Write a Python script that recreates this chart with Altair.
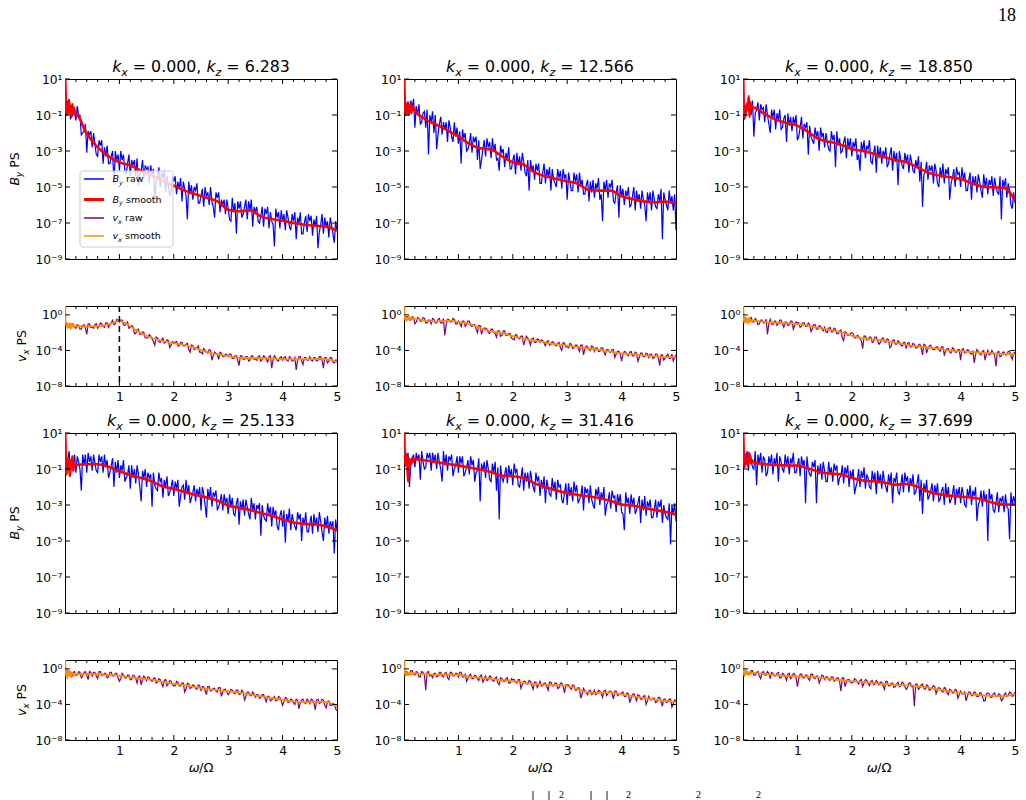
import altair as alt
import pandas as pd

# ---------------- data ----------------
OMEGA = [round(0.05 * k, 2) for k in range(1, 101)]              # raw frequency grid, omega/Omega
OMEGA_MID = [round(0.05 * k - 0.025, 3) for k in range(1, 101)]  # in-between raw frequencies
SMOOTH_OMEGA = [0.005, 0.015, 0.03, 0.045, 0.06, 0.075, 0.09, 0.105, 0.12, 0.135, 0.15, 0.165, 0.18,
                0.2, 0.4, 0.6, 0.8, 1.0, 1.2, 1.4, 1.6, 1.8, 2.0, 2.2, 2.4, 2.6, 2.8, 3.0,
                3.2, 3.4, 3.6, 3.8, 4.0, 4.2, 4.4, 4.6, 4.8, 5.0]
KZ = ["6.283", "12.566", "18.850", "25.133", "31.416", "37.699"]

# raw B_y spectra: log10(PS) in tenths of a decade, at OMEGA
BY_RAW_1 = [-4, -12, -8, -13, -10, -21, -19, -31, -21, -28,
            -26, -33, -27, -37, -33, -37, -33, -49, -35, -41,
            -35, -41, -37, -44, -38, -44, -49, -41, -45, -40,
            -48, -43, -56, -45, -50, -45, -53, -49, -53, -47,
            -54, -51, -58, -51, -68, -54, -57, -52, -59, -55,
            -61, -55, -60, -58, -67, -56, -64, -60, -65, -62,
            -69, -64, -76, -62, -67, -61, -68, -63, -72, -64,
            -69, -66, -72, -65, -73, -69, -83, -67, -73, -69,
            -74, -67, -74, -69, -79, -70, -76, -70, -75, -69,
            -77, -72, -84, -71, -76, -72, -78, -71, -81, -74]
BY_RAW_2 = [-5, -10, -6, -17, -10, -15, -9, -17, -32, -14,
            -20, -29, -15, -21, -18, -25, -17, -25, -22, -26,
            -37, -23, -30, -26, -31, -25, -35, -40, -29, -33,
            -28, -34, -30, -35, -41, -31, -39, -35, -40, -35,
            -43, -38, -41, -36, -44, -52, -41, -46, -41, -48,
            -42, -48, -44, -52, -46, -50, -45, -51, -45, -57,
            -47, -52, -47, -53, -49, -54, -49, -58, -53, -56,
            -51, -57, -69, -52, -56, -50, -58, -53, -67, -55,
            -60, -55, -61, -55, -63, -58, -62, -57, -69, -58,
            -63, -57, -62, -58, -79, -57, -63, -59, -63, -74]
BY_RAW_3 = [-11, -5, -10, -22, -7, -13, -7, -14, -10, -20,
            -11, -18, -13, -18, -12, -25, -16, -19, -15, -24,
            -17, -23, -17, -32, -22, -26, -22, -30, -22, -28,
            -25, -30, -24, -39, -27, -31, -25, -34, -28, -33,
            -28, -35, -41, -30, -34, -29, -36, -31, -42, -34,
            -37, -33, -39, -32, -41, -36, -49, -35, -40, -36,
            -42, -36, -42, -39, -47, -61, -42, -46, -41, -48,
            -41, -50, -45, -48, -43, -57, -45, -50, -43, -50,
            -46, -52, -46, -57, -49, -53, -47, -56, -50, -54,
            -49, -55, -50, -54, -68, -50, -56, -52, -62, -59]
BY_RAW_4 = [-5, -12, -8, -12, -6, -22, -8, -12, -6, -11,
            -7, -12, -6, -12, -9, -15, -8, -20, -12, -15,
            -11, -17, -13, -21, -15, -18, -13, -28, -15, -20,
            -15, -31, -19, -22, -17, -26, -20, -25, -20, -25,
            -21, -31, -20, -27, -24, -29, -23, -28, -25, -33,
            -24, -37, -27, -31, -25, -33, -28, -33, -29, -35,
            -31, -35, -29, -41, -33, -36, -31, -38, -33, -38,
            -32, -47, -36, -39, -35, -42, -36, -42, -36, -42,
            -51, -39, -44, -39, -44, -38, -50, -41, -45, -40,
            -46, -41, -45, -39, -50, -43, -46, -42, -57, -44]
BY_RAW_5 = [-4, -20, -4, -9, -5, -16, -6, -9, -4, -11,
            -6, -10, -6, -17, -8, -11, -5, -14, -8, -12,
            -7, -14, -9, -13, -8, -17, -11, -28, -11, -15,
            -10, -17, -12, -22, -38, -15, -13, -18, -14, -19,
            -12, -19, -15, -22, -17, -21, -16, -23, -17, -25,
            -21, -29, -20, -25, -22, -27, -20, -27, -23, -30,
            -25, -28, -23, -29, -25, -33, -23, -29, -27, -32,
            -25, -30, -27, -36, -28, -32, -26, -34, -29, -34,
            -44, -29, -35, -30, -35, -29, -40, -33, -36, -31,
            -37, -33, -37, -31, -40, -35, -38, -52, -35, -39]
BY_RAW_6 = [-5, -11, -5, -10, -19, -7, -12, -5, -12, -7,
            -13, -8, -17, -6, -12, -8, -13, -7, -12, -8,
            -14, -8, -29, -10, -14, -9, -29, -13, -16, -11,
            -17, -13, -17, -11, -19, -14, -18, -13, -20, -15,
            -24, -17, -20, -15, -21, -15, -21, -17, -24, -18,
            -21, -17, -23, -18, -29, -17, -23, -19, -23, -17,
            -23, -19, -24, -18, -28, -35, -23, -27, -22, -28,
            -24, -28, -22, -30, -26, -29, -24, -30, -25, -29,
            -24, -31, -26, -30, -25, -39, -28, -31, -28, -50,
            -27, -33, -29, -34, -28, -34, -31, -49, -30, -29]

# raw B_y spectra at OMEGA_MID (tenths of a decade)
BY_RAW_MID_1 = [-1, -1, -11, -6, -5, -10, -20, -15, -19, -19,
                -20, -32, -24, -24, -28, -27, -37, -30, -30, -32,
                -30, -32, -43, -32, -35, -35, -34, -43, -35, -38,
                -39, -38, -40, -48, -39, -42, -41, -44, -55, -44,
                -44, -47, -45, -47, -55, -47, -49, -50, -48, -59,
                -51, -50, -53, -50, -61, -53, -53, -57, -57, -57,
                -68, -56, -59, -58, -58, -65, -57, -58, -57, -61,
                -61, -70, -61, -62, -61, -64, -71, -62, -64, -63,
                -65, -63, -72, -65, -64, -67, -64, -76, -66, -65,
                -66, -68, -66, -75, -65, -67, -69, -67, -76, -69]
BY_RAW_MID_2 = [-2, -10, -2, -1, -5, -4, -14, -8, -7, -10,
                -8, -10, -21, -11, -14, -14, -13, -22, -14, -17,
                -19, -18, -20, -29, -20, -22, -22, -24, -35, -24,
                -23, -25, -23, -26, -34, -27, -29, -31, -28, -40,
                -32, -31, -33, -31, -42, -35, -35, -38, -37, -37,
                -48, -37, -40, -39, -40, -48, -40, -41, -40, -43,
                -42, -52, -42, -43, -42, -46, -54, -46, -47, -46,
                -48, -45, -54, -47, -46, -48, -46, -59, -49, -49,
                -51, -52, -50, -60, -50, -52, -54, -52, -60, -53,
                -53, -52, -61, -54, -51, -53, -60, -52, -55, -54]
BY_RAW_MID_3 = [-3, -3, -3, -2, -9, -3, -4, -6, -4, -15,
                -7, -7, -9, -7, -17, -10, -9, -11, -11, -10,
                -22, -11, -15, -14, -16, -24, -17, -19, -17, -20,
                -20, -29, -19, -21, -19, -23, -30, -22, -23, -23,
                -25, -23, -32, -25, -24, -27, -24, -37, -27, -27,
                -28, -30, -28, -37, -28, -30, -31, -30, -38, -31,
                -32, -32, -41, -35, -33, -36, -43, -36, -38, -38,
                -37, -48, -39, -37, -40, -39, -48, -40, -39, -42,
                -39, -42, -52, -42, -44, -44, -43, -52, -43, -45,
                -46, -44, -45, -53, -44, -46, -45, -48, -60, -53]
BY_RAW_MID_4 = [-11, 0, -4, -2, -3, -10, -2, -2, -1, -3,
                -2, -11, -2, -3, -2, -5, -12, -4, -6, -5,
                -8, -5, -15, -8, -8, -10, -8, -20, -11, -10,
                -12, -13, -12, -21, -12, -15, -16, -14, -23, -16,
                -17, -16, -25, -19, -16, -19, -26, -19, -21, -20,
                -20, -30, -21, -20, -23, -22, -31, -24, -24, -26,
                -24, -26, -36, -26, -28, -27, -27, -35, -26, -29,
                -30, -29, -30, -38, -29, -31, -31, -33, -44, -33,
                -33, -35, -32, -35, -42, -34, -35, -37, -34, -45,
                -36, -35, -37, -34, -45, -37, -36, -39, -39, -38]
BY_RAW_MID_5 = [0, -1, -7, -2, -1, -2, 0, -10, -1, -1,
                -1, -2, -1, -10, 0, -2, -3, -2, -10, -3,
                -3, -3, -12, -5, -3, -5, -12, -4, -7, -6,
                -5, -16, -7, -6, -9, -8, -17, -9, -8, -10,
                -7, -10, -20, -9, -12, -12, -11, -20, -12, -14,
                -16, -14, -16, -24, -15, -17, -16, -19, -29, -18,
                -18, -20, -17, -19, -27, -19, -20, -21, -19, -30,
                -21, -20, -23, -20, -30, -23, -22, -25, -24, -24,
                -35, -23, -26, -24, -26, -33, -25, -27, -25, -28,
                -27, -37, -27, -28, -27, -30, -37, -29, -30, -29]
BY_RAW_MID_6 = [-1, 0, -1, -9, 0, -2, -1, -3, -14, -3,
                -2, -4, -1, -3, -10, -2, -3, -4, -1, -12,
                -4, -3, -5, -3, -13, -6, -5, -8, -7, -6,
                -17, -6, -9, -7, -8, -15, -8, -9, -8, -11,
                -10, -20, -10, -11, -9, -13, -20, -11, -12, -11,
                -13, -11, -20, -13, -12, -15, -12, -24, -13, -12,
                -14, -15, -13, -23, -13, -16, -18, -16, -25, -18,
                -19, -18, -27, -20, -18, -20, -27, -19, -21, -20,
                -20, -30, -21, -19, -22, -20, -30, -22, -22, -24,
                -21, -24, -34, -23, -26, -25, -24, -32, -23, -25]

# raw v_x spectra at OMEGA (tenths of a decade)
VX_RAW_1 = [-10, -13, -10, -15, -12, -16, -11, -22, -10, -14,
            -11, -15, -9, -13, -9, -14, -9, -11, -5, -8,
            -6, -12, -8, -14, -13, -21, -16, -22, -20, -26,
            -22, -27, -34, -26, -31, -26, -31, -29, -34, -31,
            -30, -35, -31, -35, -32, -42, -35, -38, -35, -42,
            -38, -42, -39, -51, -42, -45, -42, -47, -44, -47,
            -44, -49, -46, -57, -46, -50, -47, -51, -46, -50,
            -47, -52, -46, -50, -47, -60, -46, -51, -48, -51,
            -47, -52, -48, -51, -62, -47, -52, -48, -51, -47,
            -52, -48, -51, -47, -60, -48, -52, -48, -54, -51]
VX_RAW_2 = [-2, -6, -2, -10, -3, -7, -3, -9, -6, -10,
            -5, -9, -4, -9, -23, -5, -8, -4, -10, -7,
            -13, -7, -11, -7, -13, -11, -20, -12, -17, -15,
            -20, -16, -20, -25, -18, -23, -18, -23, -21, -27,
            -22, -26, -24, -34, -24, -29, -27, -31, -27, -31,
            -29, -35, -29, -33, -31, -35, -31, -40, -32, -36,
            -32, -38, -34, -37, -34, -45, -35, -39, -35, -41,
            -37, -41, -37, -45, -39, -42, -39, -44, -41, -52,
            -41, -45, -42, -46, -42, -52, -43, -47, -43, -48,
            -44, -48, -44, -57, -45, -49, -44, -49, -52, -45]
VX_RAW_3 = [-3, -7, -3, -8, -6, -10, -6, -9, -22, -5,
            -11, -7, -10, -6, -14, -8, -11, -7, -12, -9,
            -14, -9, -13, -9, -19, -11, -16, -12, -16, -14,
            -20, -14, -19, -16, -21, -17, -29, -20, -23, -20,
            -26, -23, -27, -38, -24, -28, -25, -30, -25, -33,
            -27, -30, -27, -37, -29, -33, -29, -34, -31, -38,
            -31, -36, -33, -37, -33, -45, -34, -38, -34, -39,
            -36, -39, -36, -45, -38, -42, -37, -42, -39, -51,
            -38, -42, -40, -44, -54, -39, -44, -41, -51, -40,
            -44, -42, -58, -41, -46, -42, -45, -41, -50, -42]
VX_RAW_4 = [-2, -8, -4, -7, -3, -10, -4, -7, -3, -8,
            -4, -11, -3, -7, -5, -9, -4, -8, -5, -14,
            -5, -10, -7, -12, -7, -11, -9, -18, -8, -13,
            -10, -14, -10, -15, -12, -20, -12, -17, -14, -19,
            -14, -19, -16, -26, -16, -22, -18, -22, -18, -24,
            -20, -29, -20, -24, -22, -26, -21, -26, -23, -29,
            -23, -27, -24, -29, -24, -35, -26, -30, -26, -32,
            -29, -32, -29, -37, -31, -35, -31, -35, -32, -41,
            -32, -38, -34, -38, -34, -45, -35, -38, -34, -39,
            -35, -46, -34, -38, -35, -44, -36, -41, -40, -47]
VX_RAW_5 = [-3, -6, -2, -7, -4, -9, -4, -24, -3, -7,
            -5, -9, -4, -8, -5, -10, -4, -8, -5, -9,
            -4, -9, -14, -7, -11, -7, -11, -8, -15, -8,
            -12, -9, -14, -9, -18, -11, -14, -10, -16, -12,
            -15, -12, -22, -14, -17, -13, -19, -15, -21, -14,
            -19, -16, -24, -15, -19, -16, -21, -16, -27, -18,
            -21, -18, -24, -21, -33, -22, -27, -25, -29, -24,
            -28, -25, -32, -24, -28, -25, -34, -25, -29, -27,
            -31, -27, -38, -29, -32, -29, -34, -31, -40, -31,
            -35, -33, -37, -32, -42, -34, -37, -34, -39, -36]
VX_RAW_6 = [-2, -6, -2, -7, -4, -8, -4, -7, -3, -11,
            -5, -8, -4, -10, -6, -13, -5, -9, -6, -20,
            -6, -10, -7, -11, -6, -10, -8, -16, -7, -12,
            -9, -13, -9, -13, -10, -25, -10, -15, -12, -16,
            -11, -15, -13, -20, -12, -16, -14, -18, -13, -18,
            -15, -23, -14, -19, -16, -20, -15, -19, -16, -23,
            -16, -20, -42, -17, -21, -17, -23, -19, -23, -19,
            -28, -21, -25, -21, -27, -23, -27, -23, -33, -25,
            -28, -36, -26, -30, -26, -31, -27, -31, -36, -27,
            -32, -28, -31, -28, -36, -29, -31, -26, -31, -26]

# raw v_x spectra at OMEGA_MID (tenths of a decade)
VX_RAW_MID_1 = [-10, -14, -10, -14, -11, -16, -12, -15, -10, -14,
                -15, -10, -13, -10, -14, -9, -11, -6, -10, -6,
                -6, -11, -10, -15, -12, -21, -17, -22, -19, -26,
                -26, -24, -30, -25, -30, -28, -32, -28, -37, -30,
                -31, -35, -31, -35, -33, -39, -34, -39, -37, -42,
                -44, -40, -43, -40, -46, -43, -50, -43, -47, -45,
                -44, -49, -46, -51, -46, -50, -47, -52, -46, -50,
                -51, -46, -50, -47, -53, -46, -50, -48, -52, -47,
                -48, -51, -47, -52, -48, -51, -47, -56, -48, -51,
                -51, -48, -52, -47, -51, -48, -54, -48, -53, -51]
VX_RAW_MID_2 = [-6, -2, -6, -3, -8, -4, -7, -4, -9, -6,
                -4, -9, -5, -9, -4, -11, -5, -8, -5, -10,
                -10, -7, -13, -7, -12, -11, -16, -12, -22, -15,
                -16, -21, -16, -21, -18, -24, -18, -23, -21, -26,
                -28, -23, -27, -24, -29, -26, -34, -26, -31, -28,
                -28, -32, -30, -34, -30, -34, -32, -37, -31, -36,
                -37, -33, -37, -34, -41, -34, -38, -36, -40, -36,
                -37, -41, -37, -42, -39, -42, -39, -48, -41, -44,
                -45, -42, -46, -41, -46, -43, -48, -43, -47, -44,
                -44, -49, -44, -48, -45, -51, -46, -49, -44, -48]
VX_RAW_MID_3 = [-2, -7, -4, -8, -4, -11, -6, -9, -5, -10,
                -10, -7, -12, -6, -10, -8, -12, -7, -16, -8,
                -9, -13, -9, -13, -11, -16, -11, -16, -13, -18,
                -19, -15, -19, -15, -21, -18, -26, -19, -23, -21,
                -21, -26, -24, -29, -24, -28, -25, -31, -25, -29,
                -31, -26, -31, -28, -35, -28, -33, -31, -35, -31,
                -32, -36, -32, -37, -34, -37, -33, -43, -35, -38,
                -39, -36, -41, -36, -41, -38, -43, -38, -42, -39,
                -39, -43, -39, -43, -40, -45, -41, -45, -40, -44,
                -45, -40, -45, -42, -47, -42, -45, -41, -46, -43]
VX_RAW_MID_4 = [-6, -4, -9, -3, -7, -4, -8, -3, -12, -4,
                -4, -8, -3, -7, -5, -10, -4, -8, -5, -10,
                -11, -7, -10, -7, -12, -8, -16, -8, -12, -10,
                -9, -13, -11, -16, -11, -16, -13, -19, -13, -18,
                -19, -15, -19, -16, -23, -17, -21, -19, -23, -19,
                -20, -24, -20, -25, -22, -25, -21, -31, -23, -26,
                -27, -24, -28, -24, -28, -26, -31, -26, -30, -28,
                -29, -33, -29, -33, -31, -36, -33, -36, -31, -36,
                -37, -33, -37, -35, -40, -35, -38, -34, -39, -36,
                -34, -38, -35, -39, -34, -41, -37, -41, -39, -45]
VX_RAW_MID_5 = [-3, -7, -2, -6, -3, -9, -3, -7, -4, -8,
                -10, -5, -8, -4, -9, -4, -12, -4, -8, -5,
                -4, -9, -6, -11, -6, -11, -8, -13, -7, -12,
                -13, -8, -13, -10, -16, -10, -14, -11, -16, -11,
                -12, -16, -12, -18, -14, -17, -14, -23, -15, -18,
                -19, -16, -20, -15, -19, -16, -22, -16, -20, -18,
                -18, -23, -19, -24, -22, -28, -25, -29, -24, -28,
                -29, -24, -28, -25, -30, -25, -28, -25, -30, -28,
                -26, -31, -28, -33, -28, -36, -30, -34, -30, -36,
                -35, -33, -38, -32, -37, -34, -38, -34, -43, -35]
VX_RAW_MID_6 = [-7, -3, -6, -2, -7, -3, -11, -3, -7, -5,
                -4, -8, -5, -10, -5, -9, -6, -11, -5, -10,
                -11, -6, -10, -7, -13, -6, -11, -8, -12, -8,
                -9, -12, -9, -14, -10, -14, -10, -20, -12, -15,
                -15, -12, -17, -12, -16, -13, -19, -13, -17, -15,
                -15, -19, -14, -19, -16, -21, -17, -20, -15, -20,
                -21, -16, -20, -17, -23, -18, -22, -18, -24, -21,
                -20, -24, -22, -26, -22, -29, -24, -27, -24, -29,
                -28, -26, -31, -26, -30, -27, -31, -27, -36, -28,
                -28, -32, -27, -31, -29, -34, -27, -30, -27, -30]

# smoothed spectra: log10(PS) at SMOOTH_OMEGA
BY_SMOOTH_1 = [1.0, -0.3, -1.0, -0.4, -0.9, -0.2, -0.8, -0.5, -1.1, -0.4, -0.9, -0.6, -1.0,
               -0.95, -2.05, -2.8, -3.3, -3.63, -3.8, -4.1, -4.37, -4.65, -4.93, -5.2, -5.4, -5.6,
               -5.8, -6.26, -6.35, -6.3, -6.63, -6.78, -6.87, -7.0, -7.1, -7.15, -7.2, -7.43]
BY_SMOOTH_2 = [1.0, -0.4, -1.0, -0.5, -0.8, -0.3, -0.9, -0.6, -0.4, -0.9, -0.5, -0.7, -0.6,
               -0.75, -1.25, -1.55, -1.85, -2.19, -2.6, -2.85, -2.92, -3.3, -3.63, -3.76, -4.19, -4.4,
               -4.56, -4.69, -4.83, -5.17, -5.2, -5.2, -5.52, -5.67, -5.8, -5.85, -5.81, -5.9]
BY_SMOOTH_3 = [1.0, -0.6, -1.2, -0.5, -0.8, -0.4, -0.7, 0.05, -1.1, -0.3, -0.6, -0.5, -0.6,
               -0.6, -0.95, -1.25, -1.45, -1.59, -1.95, -2.35, -2.5, -2.65, -2.89, -3.0, -3.15, -3.35,
               -3.5, -3.63, -3.9, -4.2, -4.35, -4.45, -4.56, -4.78, -4.98, -5.02, -5.05, -5.76]
BY_SMOOTH_4 = [1.0, -0.5, -1.3, -0.4, -1.0, -0.6, -1.4, -0.5, -0.9, -0.3, -1.1, -0.7, -0.8,
               -0.78, -0.74, -0.74, -0.88, -1.13, -1.33, -1.5, -1.7, -1.97, -2.11, -2.28, -2.45, -2.58,
               -2.75, -3.04, -3.15, -3.28, -3.45, -3.6, -3.81, -3.97, -4.05, -4.08, -4.18, -4.43]
BY_SMOOTH_5 = [1.0, -0.3, -0.8, -0.2, -0.6, -1.7, -0.4, -0.9, -0.5, -0.7, -0.4, -0.6, -0.5,
               -0.45, -0.53, -0.62, -0.72, -0.8, -0.92, -1.03, -1.17, -1.38, -1.4, -1.5, -1.8, -2.0,
               -2.2, -2.33, -2.44, -2.53, -2.62, -2.78, -2.98, -3.03, -3.15, -3.27, -3.38, -3.54]
BY_SMOOTH_6 = [1.0, -0.3, -0.9, -0.2, -0.7, -0.4, -0.8, -0.1, -0.6, -0.3, -0.7, -0.5, -0.6,
               -0.62, -0.74, -0.78, -0.8, -0.81, -0.97, -1.15, -1.25, -1.3, -1.5, -1.63, -1.68, -1.75,
               -1.88, -1.83, -1.98, -2.25, -2.4, -2.48, -2.54, -2.58, -2.7, -2.88, -2.98, -2.96]

VX_SMOOTH_1 = [1.0, -1.2, -0.9, -1.5, -1.0, -1.4, -0.9, -1.6, -1.1, -1.3, -1.0, -1.4, -1.2,
               -1.3, -1.3, -1.28, -1.08, -0.7, -1.3, -2.1, -2.6, -2.95, -3.2, -3.4, -3.75, -4.15,
               -4.45, -4.65, -4.85, -4.88, -4.88, -4.9, -5.0, -5.0, -4.98, -4.98, -4.98, -5.3]
VX_SMOOTH_2 = [1.0, -0.6, -0.2, -0.7, -0.3, -0.5, -0.1, -0.6, -0.4, -0.3, -0.5, -0.4, -0.5,
               -0.45, -0.68, -0.75, -0.65, -0.8, -1.0, -1.5, -1.85, -2.05, -2.38, -2.68, -2.9, -3.1,
               -3.32, -3.47, -3.62, -3.78, -3.95, -4.13, -4.34, -4.43, -4.55, -4.66, -4.75, -4.72]
VX_SMOOTH_3 = [1.0, -0.5, -0.9, -0.3, -0.8, -0.4, -1.0, -0.5, -0.3, -0.8, -0.6, -0.7, -0.6,
               -0.62, -0.8, -0.88, -0.95, -1.04, -1.2, -1.45, -1.7, -1.95, -2.34, -2.65, -2.75, -2.9,
               -3.12, -3.38, -3.54, -3.65, -3.8, -4.02, -4.09, -4.18, -4.27, -4.35, -4.4, -4.4]
VX_SMOOTH_4 = [1.0, -0.8, 0.0, -1.1, -0.3, -0.7, -0.2, -0.9, -0.4, -0.6, -0.5, -0.8, -0.6,
               -0.6, -0.56, -0.6, -0.68, -0.75, -0.95, -1.08, -1.22, -1.48, -1.69, -1.84, -2.05, -2.25,
               -2.39, -2.51, -2.66, -2.88, -3.1, -3.3, -3.48, -3.66, -3.73, -3.72, -3.7, -4.3]
VX_SMOOTH_5 = [1.0, -0.5, -0.75, -0.4, -0.7, -0.45, -0.6, -0.4, -0.7, -0.5, -0.6, -0.45, -0.55,
               -0.5, -0.6, -0.67, -0.64, -0.67, -0.9, -1.0, -1.12, -1.27, -1.39, -1.56, -1.7, -1.77,
               -1.82, -1.95, -2.3, -2.68, -2.7, -2.65, -2.88, -3.06, -3.28, -3.45, -3.6, -3.75]
VX_SMOOTH_6 = [1.0, -0.4, -0.8, -0.2, -0.6, -0.3, -0.7, -0.4, -0.5, -0.6, -0.4, -0.5, -0.45,
               -0.45, -0.6, -0.72, -0.8, -0.85, -0.88, -0.98, -1.12, -1.28, -1.41, -1.47, -1.6, -1.72,
               -1.8, -1.85, -1.93, -2.12, -2.32, -2.5, -2.7, -2.86, -2.97, -3.03, -3.07, -2.81]

BY_RAW = [BY_RAW_1, BY_RAW_2, BY_RAW_3, BY_RAW_4, BY_RAW_5, BY_RAW_6]
BY_RAW_MID = [BY_RAW_MID_1, BY_RAW_MID_2, BY_RAW_MID_3, BY_RAW_MID_4, BY_RAW_MID_5, BY_RAW_MID_6]
VX_RAW = [VX_RAW_1, VX_RAW_2, VX_RAW_3, VX_RAW_4, VX_RAW_5, VX_RAW_6]
VX_RAW_MID = [VX_RAW_MID_1, VX_RAW_MID_2, VX_RAW_MID_3, VX_RAW_MID_4, VX_RAW_MID_5, VX_RAW_MID_6]
BY_SMOOTH = [BY_SMOOTH_1, BY_SMOOTH_2, BY_SMOOTH_3, BY_SMOOTH_4, BY_SMOOTH_5, BY_SMOOTH_6]
VX_SMOOTH = [VX_SMOOTH_1, VX_SMOOTH_2, VX_SMOOTH_3, VX_SMOOTH_4, VX_SMOOTH_5, VX_SMOOTH_6]

X_MAJOR = [1, 2, 3, 4]
X_MINOR = [0.2, 0.4, 0.6, 0.8, 1.2, 1.4, 1.6, 1.8, 2.2, 2.4, 2.6, 2.8,
           3.2, 3.4, 3.6, 3.8, 4.2, 4.4, 4.6, 4.8]
X_LABELS = [1, 2, 3, 4, 5]
Y_EXP_B = [1, -1, -3, -5, -7, -9]
Y_EXP_V = [0, -4, -8]
DASH_AT = [1.0]

for lst in BY_RAW + BY_RAW_MID + VX_RAW + VX_RAW_MID:
    assert len(lst) == len(OMEGA), len(lst)
for lst in BY_SMOOTH + VX_SMOOTH:
    assert len(lst) == len(SMOOTH_OMEGA), len(lst)

# ---------------- styling ----------------
FONT = "DejaVu Sans"
W, HB, HV = 272, 180, 80
TITLE_SIZE, TICK_SIZE, LABEL_SIZE, LEG_SIZE = 15.8, 12.3, 12.5, 9.5

EM = {" ": 0.318, ".": 0.318, ",": 0.318, "=": 0.838, "k": 0.579, "x": 0.592, "z": 0.525,
      "B": 0.686, "y": 0.592, "v": 0.592, "P": 0.603, "S": 0.635, "r": 0.411, "a": 0.613,
      "w": 0.818, "s": 0.521, "m": 0.974, "o": 0.612, "t": 0.392, "h": 0.634, "ω": 0.80,
      "/": 0.337, "Ω": 0.764}
for d in "0123456789":
    EM[d] = 0.636


def tw(s, size):
    return sum(EM.get(c, 0.6) for c in s) * size


SUP = {"-": "\u207b", "0": "\u2070", "1": "\u00b9", "2": "\u00b2", "3": "\u00b3", "4": "\u2074",
       "5": "\u2075", "6": "\u2076", "7": "\u2077", "8": "\u2078", "9": "\u2079"}


def label_expr(exps):
    e = "round(log(datum.value)/LN10)"
    parts = [f"{e} == {n} ? '10{''.join(SUP[c] for c in str(n))}'" for n in exps]
    return " : ".join(parts) + " : ''"


def one():
    return pd.DataFrame({"s": [0]})


def txt(s, x, y, size, italic=False, angle=0, align="left", font=FONT):
    return alt.Chart(pd.DataFrame({"s": [s]})).mark_text(
        align=align, baseline="alphabetic", font=font, fontSize=size,
        fontStyle="italic" if italic else "normal", angle=angle, color="black"
    ).encode(text="s:N", x=alt.value(x), y=alt.value(y))


def _items(pieces, size):
    items = []
    for t, it, sub in pieces:
        sz = size * 0.7 if sub else size
        lead = tw(t[:len(t) - len(t.lstrip(" "))], sz)
        items.append((t.strip(" "), it, sub, sz, lead, tw(t, sz)))
    return items


def rich_h(pieces, x, y, size, anchor="middle"):
    items = _items(pieces, size)
    total = sum(i[5] for i in items)
    cur = x - total / 2 if anchor == "middle" else x
    out = []
    for t, it, sub, sz, lead, w in items:
        out.append(txt(t, cur + lead, y + (size * 0.25 if sub else 0), sz, italic=it))
        cur += w
    return out


def rich_v(pieces, x, cy, size):
    items = _items(pieces, size)
    total = sum(i[5] for i in items)
    cur = cy + total / 2
    out = []
    for t, it, sub, sz, lead, w in items:
        out.append(txt(t, x + (size * 0.25 if sub else 0), cur - lead, sz, italic=it, angle=270))
        cur -= w
    return out


def legend_layers():
    out = [alt.Chart(one()).mark_rect(fill="white", fillOpacity=0.8, stroke="#cccccc",
                                      strokeWidth=1, cornerRadius=3).encode(
        x=alt.value(15), x2=alt.value(108), y=alt.value(92), y2=alt.value(168))]
    entries = [("B", "y", "#0000ff", 1.5, " raw", 100),
               ("B", "y", "#ff0000", 3.0, " smooth", 120.5),
               ("v", "x", "#800080", 1.5, " raw", 139),
               ("v", "x", "#ff8c00", 1.5, " smooth", 157)]
    for letter, sub, color, sw, word, yy in entries:
        out.append(alt.Chart(one()).mark_rule(color=color, strokeWidth=sw).encode(
            x=alt.value(19), x2=alt.value(39), y=alt.value(yy), y2=alt.value(yy)))
        out += rich_h([(letter, True, False), (sub, True, True), (word, False, False)],
                      47.5, yy + 3.4, LEG_SIZE, anchor="left")
    return out


def caption_fragments():
    # top edge of the (cropped) figure caption below the panels, relative to panel 5 (v_x)
    out = []
    for bx in (129, 145, 187, 203):
        out.append(alt.Chart(one()).mark_rule(color="black", strokeWidth=0.9).encode(
            x=alt.value(bx), x2=alt.value(bx), y=alt.value(131), y2=alt.value(141)))
    for sx in (155, 222, 292, 352):
        out.append(txt("2", sx, 137.5, 10, font="Liberation Serif"))
    return out


def panel(kind, i):
    col = i % 3
    row = i // 3
    H = HB if kind == "B" else HV
    xs = alt.Scale(domain=[0, 5], nice=False, zero=False)
    if kind == "B":
        ys = alt.Scale(type="log", domain=[1e-9, 1e1], nice=False)
        exps = Y_EXP_B
        vals = BY_RAW[i] + BY_RAW_MID[i]
        smooth = BY_SMOOTH[i]
        raw_color, raw_w, sm_color, sm_w = "#0000ff", 1.2, "#ff0000", 2.6
        xaxis = None
    else:
        ys = alt.Scale(type="log", domain=[1e-8, 1e1], nice=False)
        exps = Y_EXP_V
        vals = VX_RAW[i] + VX_RAW_MID[i]
        smooth = VX_SMOOTH[i]
        raw_color, raw_w, sm_color, sm_w = "#800080", 1.2, "#ff8c00", 1.8
        xaxis = alt.Axis(values=X_LABELS, format="d", ticks=False, domain=False, grid=False,
                         labelPadding=4, labelFontSize=TICK_SIZE, labelFlush=False,
                         labelOverlap=False, title=None)
    yaxis = alt.Axis(values=[10.0 ** n for n in exps], labelExpr=label_expr(exps), ticks=False,
                     domain=False, grid=False, labelPadding=3, labelFontSize=TICK_SIZE,
                     labelFlush=False, labelOverlap=False, title=None)

    def X(f):
        return alt.X(f"{f}:Q", scale=xs, axis=xaxis, title=None)

    def Y(f):
        return alt.Y(f"{f}:Q", scale=ys, axis=yaxis, title=None)

    df_raw = pd.DataFrame({"w": OMEGA + OMEGA_MID,
                           "p": [10 ** (v / 10) for v in vals]}).sort_values("w")
    df_sm = pd.DataFrame({"w": SMOOTH_OMEGA, "p": [10 ** v for v in smooth]})
    layers = [
        alt.Chart(df_raw).mark_line(color=raw_color, strokeWidth=raw_w, clip=True,
                                    strokeJoin="miter").encode(x=X("w"), y=Y("p")),
        alt.Chart(df_sm).mark_line(color=sm_color, strokeWidth=sm_w, clip=True,
                                   interpolate="monotone").encode(x=X("w"), y=Y("p")),
    ]
    # inward ticks on all four sides
    for tv, L in ((X_MAJOR, 5), (X_MINOR, 3)):
        d = pd.DataFrame({"t": tv})
        layers.append(alt.Chart(d).mark_rule(color="black", strokeWidth=1).encode(
            x=X("t"), y=alt.value(0), y2=alt.value(L)))
        layers.append(alt.Chart(d).mark_rule(color="black", strokeWidth=1).encode(
            x=X("t"), y=alt.value(H - L), y2=alt.value(H)))
    dy = pd.DataFrame({"t": [10.0 ** n for n in exps]})
    layers.append(alt.Chart(dy).mark_rule(color="black", strokeWidth=1).encode(
        y=Y("t"), x=alt.value(0), x2=alt.value(5)))
    layers.append(alt.Chart(dy).mark_rule(color="black", strokeWidth=1).encode(
        y=Y("t"), x=alt.value(W - 5), x2=alt.value(W)))

    if kind == "B":
        layers += rich_h([("k", True, False), ("x", True, True), (" = 0.000, ", False, False),
                          ("k", True, False), ("z", True, True), (" = " + KZ[i], False, False)],
                         W / 2, -7, TITLE_SIZE)
        if col == 0:
            layers += rich_v([("B", True, False), ("y", True, True), (" PS", False, False)],
                             -46, H / 2, LABEL_SIZE)
        if i == 0:
            layers += legend_layers()
            # page origin anchor (top-left corner of the page)
            layers.append(alt.Chart(one()).mark_rule(opacity=0, strokeWidth=0.01).encode(
                x=alt.value(-64), x2=alt.value(-64), y=alt.value(-78), y2=alt.value(-77)))
        if i == 2:
            layers.append(txt("18", 264, -58, 18, align="center", font="Liberation Serif"))
    else:
        if col == 0:
            layers += rich_v([("v", True, False), ("x", True, True), (" PS", False, False)],
                             -39, H / 2, LABEL_SIZE)
        if i == 0:
            layers.append(alt.Chart(pd.DataFrame({"t": DASH_AT})).mark_rule(
                color="black", strokeDash=[6, 4], strokeWidth=1.5).encode(
                x=X("t"), y=alt.value(0), y2=alt.value(H)))
        if row == 1:
            layers += rich_h([("ω", True, False), ("/Ω", False, False)], W / 2, 112, 13)
        if i == 4:
            layers += caption_fragments()
    return alt.layer(*layers).properties(width=W, height=H)


panels = []
for r in range(2):
    panels += [panel("B", 3 * r + c) for c in range(3)]
    panels += [panel("V", 3 * r + c) for c in range(3)]

chart = alt.concat(*panels, columns=3, spacing=alt.RowColnumber(row=47, column=67),
                   bounds="flush").properties(
    padding=0, background="white"
).configure_view(stroke="black", strokeWidth=1).configure_axis(
    labelFont=FONT, labelColor="black", grid=False)

chart.save("out.html", embed_options={"renderer": "svg", "actions": False})
